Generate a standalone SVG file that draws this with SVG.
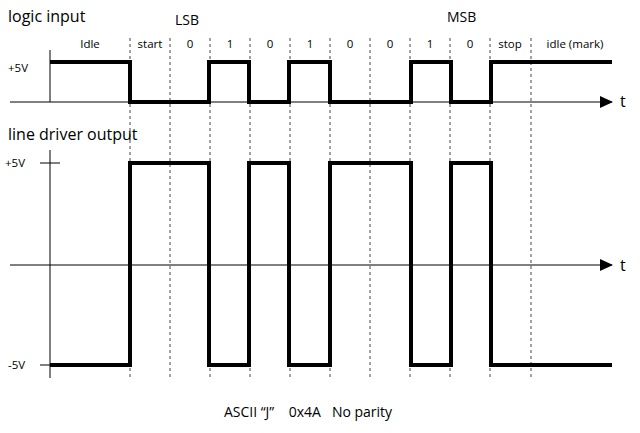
<svg xmlns="http://www.w3.org/2000/svg" width="640" height="433" viewBox="0 0 640 433">
<style>
text{font-family:"Open Sans","Noto Sans",sans-serif;fill:#000}
.s{font-size:11.5px}.m{font-size:14px}.l{font-size:16px}
.ax{stroke:#000;stroke-width:1;fill:none}
.sig{stroke:#000;stroke-width:4;fill:none}
.d{stroke:#444;stroke-width:1;stroke-dasharray:3,3}
</style>
<defs><marker id="ar" markerWidth="14" markerHeight="14" refX="12" refY="6" orient="auto" markerUnits="userSpaceOnUse"><path d="M0,0 L13,6 L0,12 Z" fill="#000"/></marker></defs>
<rect width="640" height="433" fill="#fff"/>
<g id="grid">
<path class="d" d="M130,38V378M170,38V378M210,38V378M250,38V378M290,38V378M330,38V378M370,38V378M410,38V378M450,38V378M490,38V378M531,38V378"/>
</g>
<g id="axes">
<path class="ax" d="M50,50V102M10,102H612" marker-end="url(#ar)"/>
<path class="ax" d="M50,150V378M10,265H612" marker-end="url(#ar)"/>
<path class="ax" d="M40,163H60M40,365H60"/>
</g>
<g id="signals">
<path class="sig" d="M50,62H130V102H209V62H249V102H289V62H330V102H411V62H451V102H491V62H612"/>
<path class="sig" d="M50,365H130V163H209V365H249V163H289V365H330V163H411V365H451V163H491V365H612"/>
</g>
<g id="labels">
<text class="l" x="8" y="22">logic input</text>
<text class="m" x="175" y="25">LSB</text>
<text class="m" x="447" y="22">MSB</text>
<text class="s" x="90" y="48" text-anchor="middle">Idle</text>
<text class="s" x="150" y="48" text-anchor="middle">start</text>
<text class="s" x="190" y="48" text-anchor="middle">0</text>
<text class="s" x="230" y="48" text-anchor="middle">1</text>
<text class="s" x="270" y="48" text-anchor="middle">0</text>
<text class="s" x="310" y="48" text-anchor="middle">1</text>
<text class="s" x="350" y="48" text-anchor="middle">0</text>
<text class="s" x="390" y="48" text-anchor="middle">0</text>
<text class="s" x="430" y="48" text-anchor="middle">1</text>
<text class="s" x="470" y="48" text-anchor="middle">0</text>
<text class="s" x="510" y="48" text-anchor="middle">stop</text>
<text class="s" x="575" y="48" text-anchor="middle">idle (mark)</text>
<text class="s" x="8" y="72">+5V</text>
<text class="l" x="620" y="107">t</text>
<text class="l" x="8" y="140">line driver output</text>
<text class="s" x="5" y="167">+5V</text>
<text class="l" x="620" y="271">t</text>
<text class="s" x="8" y="369">-5V</text>
<text class="m" x="308" y="417" text-anchor="middle" xml:space="preserve">ASCII “J”    0x4A   No parity</text>
</g>
</svg>
